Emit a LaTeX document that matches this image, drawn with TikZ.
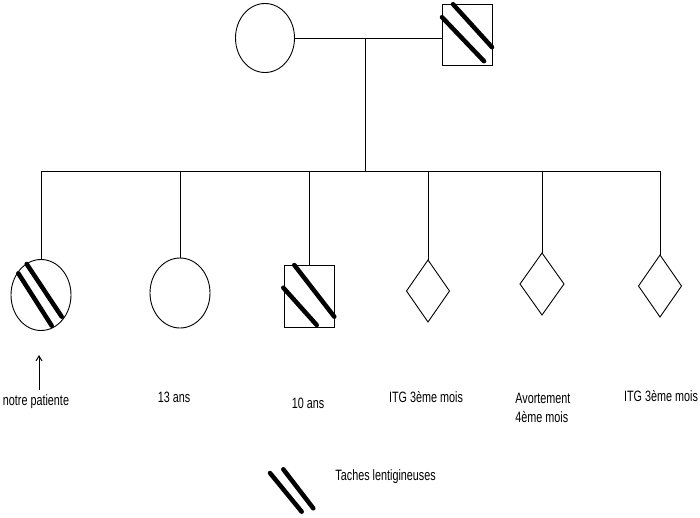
\documentclass[tikz,border=0pt]{standalone}
\usepackage{fontspec}
\setmainfont{Liberation Sans}[FakeStretch=0.72]
\usetikzlibrary{positioning,shapes.geometric,arrows.meta,calc}

\begin{document}
\begin{tikzpicture}[
  x=1pt, y=-1pt, line width=0.9pt,
  font=\fontsize{15}{19}\selectfont,
  fem/.style={draw, ellipse, inner sep=0pt, outer sep=0pt, minimum width=60pt, minimum height=70pt},
  masc/.style={draw, rectangle, inner sep=0pt, outer sep=0pt, minimum width=50pt, minimum height=62pt},
  foetus/.style={draw, diamond, inner sep=0pt, outer sep=0pt, minimum width=44pt, minimum height=62pt},
  lab/.style={anchor=base, align=left},
  tache/.style={line width=4.5pt, line cap=round},
  fleche/.style={-{Straight Barb[length=5pt,width=6pt]}, line width=1pt}
]
\useasboundingbox (0,0) rectangle (700,517);
% parents
\node[fem, minimum width=59pt, minimum height=69pt] (mere) at (265,38) {};
\node[masc, minimum height=61pt] (pere) at (467,34.7) {};
\coordinate (mil) at (365.7,38);
\coordinate (fratrie) at (365.7,171.7);
% enfants
\node[fem, minimum height=71pt] (patiente) at (41,295) {};
\node[fem] (soeur) at (180,293) {};
\node[masc] (frere) at (309,296.5) {};
\node[foetus, minimum width=43pt] (itga) at (428,291) {};
\node[foetus] (avort) at (542,284) {};
\node[foetus, minimum width=43pt] (itgb) at (660,286) {};

\draw (mere.east) -- (mere.east -| pere.west);
\draw (mil) -- (fratrie);
\draw (patiente.north) |- (fratrie) -| (itgb.north);
\foreach \n in {soeur,frere,itga,avort}
  \draw (\n.north) -- (\n.north |- fratrie);

% taches
\draw[tache] ($(pere)+(-14,-30.5)$) -- ($(pere)+(25,12.5)$);
\draw[tache] ($(pere)+(-25,-17.5)$) -- ($(pere)+(17,26.5)$);
\draw[tache] ($(patiente)+(-14.3,-31)$) -- ($(patiente)+(20.7,21.7)$);
\draw[tache] ($(patiente)+(-22.7,-21.7)$) -- ($(patiente)+(10.7,30.7)$);
\draw[tache] ($(frere)+(-14.7,-31.5)$) -- ($(frere)+(25.3,20.2)$);
\draw[tache] ($(frere)+(-25.7,-8.8)$) -- ($(frere)+(7.7,28.5)$);

% legendes
\node[lab] (lpat) at (36,405) {notre patiente};
\node[lab] (ltreize) at (174,402.7) {13 ans};
\node[lab] (ldix) at (308,408) {10 ans};
\node[lab] (litga) at (426,402.7) {ITG 3ème mois};
\node[anchor=north west, align=left, inner sep=0pt] (lavort) at (515,393) {Avortement\\4ème mois};
\node[lab] (litgb) at (661,401) {ITG 3ème mois};
\coordinate (pointe) at (39,355);
\draw[fleche] (pointe |- lpat.north) -- (pointe);

\draw[tache] (270,473) -- (301.7,511.7);
\draw[tache] (283.3,469.3) -- (313.3,508.3);
\node[anchor=base west] (lleg) at (331.7,480) {Taches lentigineuses};
\end{tikzpicture}
\end{document}
